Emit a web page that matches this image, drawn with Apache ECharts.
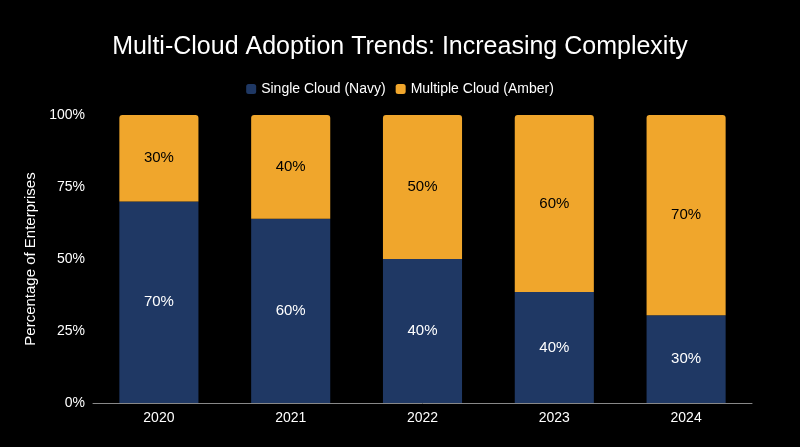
<!DOCTYPE html>
<html>
<head>
<meta charset="utf-8">
<script src="https://cdn.jsdelivr.net/npm/echarts@6/dist/echarts.min.js"></script>
<style>html,body{margin:0;background:#000;}#chart{width:800px;height:447px;}</style>
</head>
<body>
<div id="chart"></div>
<script>
var years = ['2020', '2021', '2022', '2023', '2024'];
// bar heights as drawn (share of 100%)
var singleCloud = [70, 64, 50, 38.5, 30.5];
var multiCloud = [30, 36, 50, 61.5, 69.5];
// labels as printed on the bars
var singleLabels = ['70%', '60%', '40%', '40%', '30%'];
var multiLabels = ['30%', '40%', '50%', '60%', '70%'];
var yTicks = ['0%', '25%', '50%', '75%', '100%'];

var chart = echarts.init(document.getElementById('chart'));

var option = {
    backgroundColor: '#000000',
    title: {
        text: 'Multi-Cloud Adoption Trends: Increasing Complexity',
        left: 'center',
        top: 30,
        textStyle: {
            color: '#ffffff',
            fontFamily: 'Arial',
            fontSize: 25,
            fontWeight: 'normal'
        }
    },
    legend: {
        top: 77,
        left: 'center',
        itemWidth: 10,
        itemHeight: 10,
        itemGap: 10,
        textStyle: { color: '#ffffff', fontFamily: 'Arial', fontSize: 14 },
        data: ['Single Cloud (Navy)', 'Multiple Cloud (Amber)']
    },
    grid: { left: 93, right: 48, top: 115, bottom: 44 },
    xAxis: {
        type: 'category',
        data: years,
        axisLine: { lineStyle: { color: '#888888' } },
        axisTick: { show: false },
        axisLabel: { color: '#ffffff', fontFamily: 'Arial', fontSize: 14 }
    },
    yAxis: {
        type: 'value',
        min: 0,
        max: 100,
        interval: 25,
        splitLine: { show: false },
        axisLine: { show: false },
        axisTick: { show: false },
        name: 'Percentage of Enterprises',
        nameLocation: 'middle',
        nameGap: 44,
        nameTextStyle: { color: '#ffffff', fontFamily: 'Arial', fontSize: 15 },
        axisLabel: {
            color: '#ffffff',
            fontFamily: 'Arial',
            fontSize: 14,
            formatter: function (v) { return yTicks[v / 25]; }
        }
    },
    series: [
        {
            name: 'Single Cloud (Navy)',
            type: 'bar',
            stack: 'total',
            barWidth: '60%',
            data: singleCloud,
            itemStyle: { color: '#1f3864' },
            label: {
                show: true,
                position: 'inside',
                color: '#ffffff',
                fontFamily: 'Arial',
                fontSize: 15,
                formatter: function (p) { return singleLabels[p.dataIndex]; }
            }
        },
        {
            name: 'Multiple Cloud (Amber)',
            type: 'bar',
            stack: 'total',
            data: multiCloud,
            itemStyle: { color: '#f0a62c', borderRadius: [3, 3, 0, 0] },
            label: {
                show: true,
                position: 'inside',
                color: '#000000',
                fontFamily: 'Arial',
                fontSize: 15,
                formatter: function (p) { return multiLabels[p.dataIndex]; }
            }
        }
    ]
};

chart.setOption(option);
</script>
</body>
</html>
